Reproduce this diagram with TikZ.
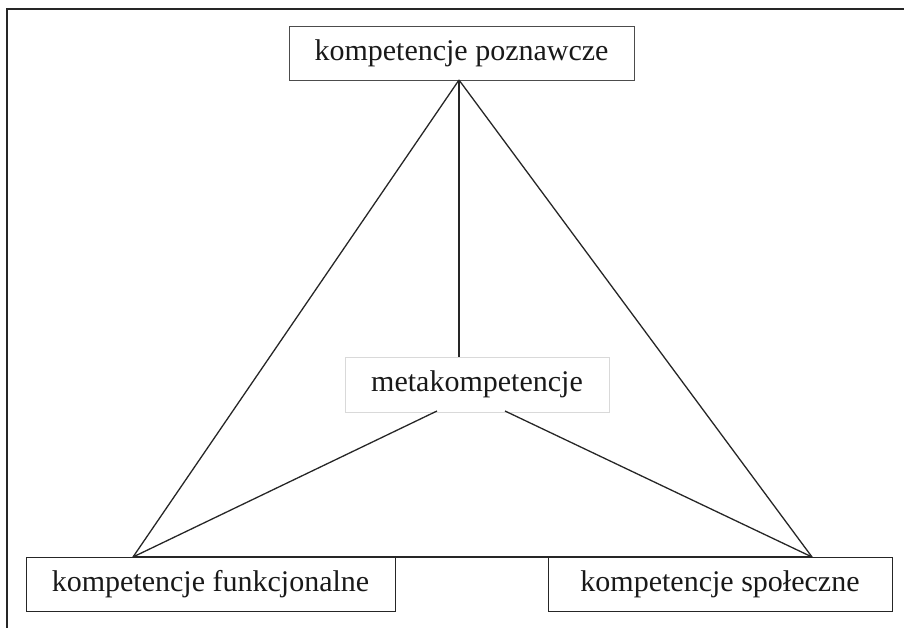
\documentclass[tikz,border=0pt]{standalone}
\usepackage{fontspec}
\setmainfont{Liberation Serif}
\begin{document}
\begin{tikzpicture}[x=1pt,y=-1pt,
  box/.style={rectangle, inner sep=0pt, text=black!90, font=\fontsize{30}{36}\selectfont},
  link/.style={line width=1.3pt, draw=black!85},
  frame/.style={line width=2pt, draw=black!85}]
\useasboundingbox (0,0) rectangle (904,628);
% outer frame (top and left only)
\coordinate (F1) at (7,628);
\coordinate (F2) at (7,9);
\coordinate (F3) at (904,9);
\draw[frame] (F1) -- (F2) -- (F3);
% boxes
\node[box, draw=black!70, line width=0.9pt, minimum width=345pt, minimum height=54pt] (top) at (461.5,53) {kompetencje poznawcze};
\node[box, draw=black!15, line width=0.6pt, minimum width=264pt, minimum height=55pt] (meta) at (477,384.5) {metakompetencje};
\node[box, draw=black!85, line width=0.9pt, minimum width=369pt, minimum height=54pt] (func) at (210.5,584) {kompetencje funkcjonalne};
\node[box, draw=black!85, line width=0.9pt, minimum width=344pt, minimum height=54pt] (soc) at (720,584) {kompetencje społeczne};
% connection points
\coordinate (A) at (459,80);
\coordinate (L) at (133,557);
\coordinate (R) at (812,557);
\coordinate (M) at (459,357);
\coordinate (ML) at (437,411);
\coordinate (MR) at (505,411);
% connectors
\draw[link] (A) -- (L);
\draw[link] (A) -- (R);
\draw[link] (A) -- (M);
\draw[link] (ML) -- (L);
\draw[link] (MR) -- (R);
\draw[link] (L) -- (R);
\end{tikzpicture}
\end{document}
